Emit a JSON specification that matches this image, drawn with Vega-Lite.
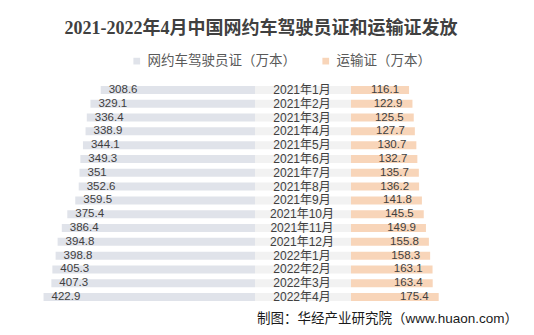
{
  "$schema": "https://vega.github.io/schema/vega-lite/v6.json",
  "background": "white",
  "padding": {"left": 20, "top": 20, "right": 16, "bottom": 5},
  "title": {"text": "2021-2022年4月中国网约车驾驶员证和运输证发放", "fontSize": 18, "font": "Liberation Serif, Noto Sans CJK SC", "fontWeight": "bold", "color": "#404040", "anchor": "middle", "offset": 16, "dx": -8},
  "data": {"values": [
    {"month": "2021年1月", "driver": 308.6, "transport": 116.1},
    {"month": "2021年2月", "driver": 329.1, "transport": 122.9},
    {"month": "2021年3月", "driver": 336.4, "transport": 125.5},
    {"month": "2021年4月", "driver": 338.9, "transport": 127.7},
    {"month": "2021年5月", "driver": 344.1, "transport": 130.7},
    {"month": "2021年6月", "driver": 349.3, "transport": 132.7},
    {"month": "2021年7月", "driver": 351, "transport": 135.7},
    {"month": "2021年8月", "driver": 352.6, "transport": 136.2},
    {"month": "2021年9月", "driver": 359.5, "transport": 141.8},
    {"month": "2021年10月", "driver": 375.4, "transport": 145.5},
    {"month": "2021年11月", "driver": 386.4, "transport": 149.9},
    {"month": "2021年12月", "driver": 394.8, "transport": 155.8},
    {"month": "2022年1月", "driver": 398.8, "transport": 158.3},
    {"month": "2022年2月", "driver": 405.3, "transport": 163.1},
    {"month": "2022年3月", "driver": 407.3, "transport": 163.4},
    {"month": "2022年4月", "driver": 422.9, "transport": 175.4}
  ]},
  "spacing": 0,
  "bounds": "flush",
  "resolve": {"scale": {"color": "shared"}},
  "hconcat": [
    {
      "width": 235, "height": 221,
      "layer": [
        {
          "mark": {"type": "bar", "height": 8},
          "encoding": {
            "y": {"field": "month", "type": "nominal", "sort": null, "axis": null, "scale": {"paddingInner": 0, "paddingOuter": 0}},
            "x": {"field": "driver", "type": "quantitative", "scale": {"domain": [0, 470], "reverse": true}, "axis": null},
            "color": {"datum": "网约车驾驶员证（万本）", "type": "nominal", "scale": {"domain": ["网约车驾驶员证（万本）", "运输证（万本）"], "range": ["#e0e3ea", "#f8d5b9"]}}
          }
        },
        {
          "mark": {"type": "text", "align": "left", "dx": 8, "fontSize": 11.5, "color": "#404040", "font": "Liberation Sans"},
          "encoding": {
            "y": {"field": "month", "type": "nominal", "sort": null, "axis": null},
            "x": {"field": "driver", "type": "quantitative", "scale": {"domain": [0, 470], "reverse": true}, "axis": null},
            "text": {"field": "driver", "type": "nominal"}
          }
        }
      ]
    },
    {
      "width": 96, "height": 221,
      "layer": [
        {
          "mark": {"type": "bar", "height": 8, "color": "#f2f2f2"},
          "encoding": {
            "y": {"field": "month", "type": "nominal", "sort": null, "axis": null, "scale": {"paddingInner": 0, "paddingOuter": 0}}
          }
        },
        {
          "mark": {"type": "text", "fontSize": 12, "color": "#404040", "dx": -1, "font": "Liberation Sans, Noto Sans CJK SC"},
          "encoding": {
            "y": {"field": "month", "type": "nominal", "sort": null, "axis": null},
            "text": {"field": "month", "type": "nominal"}
          }
        }
      ]
    },
    {
      "width": 167, "height": 221,
      "title": {"text": "制图：华经产业研究院（www.huaon.com）", "orient": "bottom", "anchor": "end", "fontSize": 13.5, "fontWeight": "normal", "font": "Liberation Sans, Noto Sans CJK SC", "color": "#1a1a1a", "offset": 8},
      "layer": [
        {
          "mark": {"type": "bar", "height": 8},
          "encoding": {
            "y": {"field": "month", "type": "nominal", "sort": null, "axis": null, "scale": {"paddingInner": 0, "paddingOuter": 0}},
            "x": {"field": "transport", "type": "quantitative", "scale": {"domain": [0, 334]}, "axis": null},
            "color": {"datum": "运输证（万本）", "type": "nominal"}
          }
        },
        {
          "mark": {"type": "text", "align": "right", "dx": -10, "fontSize": 11.5, "color": "#404040", "font": "Liberation Sans"},
          "encoding": {
            "y": {"field": "month", "type": "nominal", "sort": null, "axis": null},
            "x": {"field": "transport", "type": "quantitative", "scale": {"domain": [0, 334]}, "axis": null},
            "text": {"field": "transport", "type": "nominal"}
          }
        }
      ]
    }
  ],
  "config": {
    "view": {"stroke": null},
    "legend": {"orient": "none", "legendX": 110, "legendY": -29, "direction": "horizontal", "title": null, "symbolType": "square", "symbolSize": 45, "labelFontSize": 13.5, "labelColor": "#595959", "labelFont": "Noto Sans CJK SC", "columnPadding": 23, "padding": 0, "symbolStrokeWidth": 0}
  }
}
